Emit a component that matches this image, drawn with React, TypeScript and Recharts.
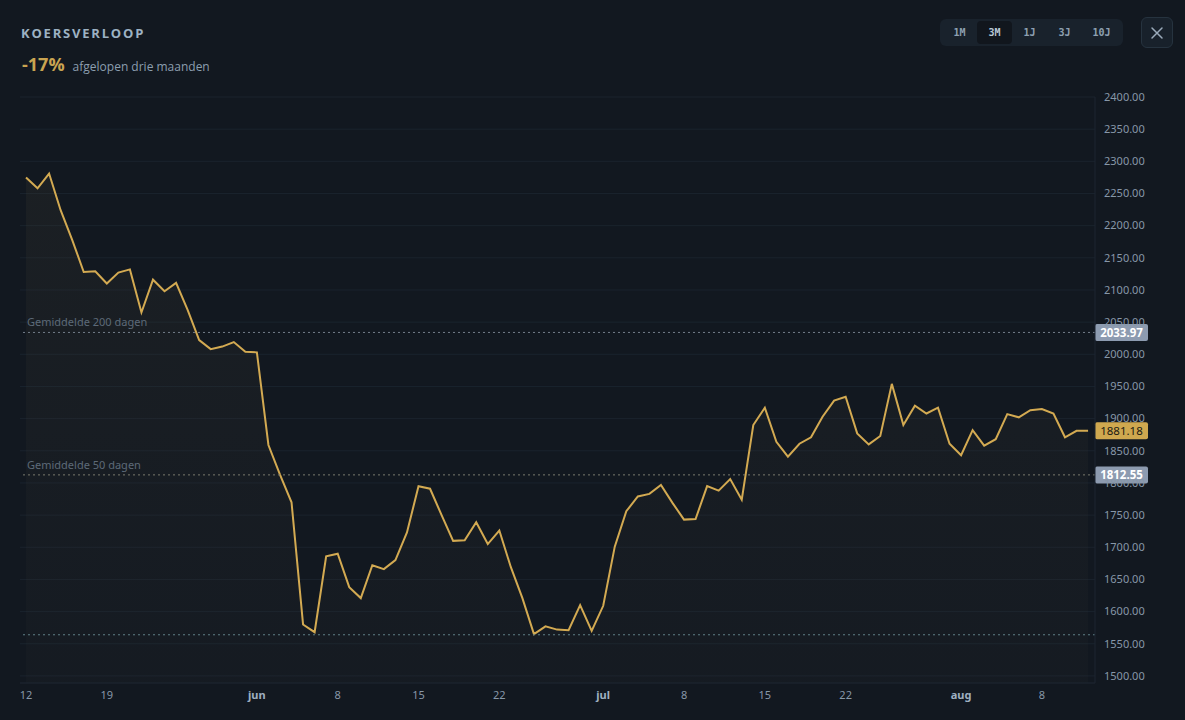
import React from "react";
import {
  ComposedChart,
  Area,
  XAxis,
  YAxis,
  CartesianGrid,
  ReferenceLine,
} from "recharts";

const prices = [
  2275, 2258, 2281, 2224, 2178, 2128, 2129, 2110, 2127, 2132,
  2065, 2116, 2098, 2111, 2069, 2022, 2008, 2012, 2019, 2004,
  2003, 1859, 1813, 1770, 1580, 1568, 1686, 1690, 1638, 1621,
  1672, 1666, 1680, 1723, 1795, 1791, 1750, 1710, 1711, 1739,
  1705, 1726, 1669, 1621, 1565, 1577, 1572, 1571, 1610, 1570,
  1609, 1701, 1756, 1779, 1783, 1797, 1769, 1743, 1744, 1795,
  1788, 1806, 1774, 1890, 1917, 1864, 1841, 1861, 1871, 1903,
  1928, 1934, 1877, 1860, 1873, 1954, 1890, 1920, 1908, 1917,
  1861, 1843, 1882, 1858, 1868, 1907, 1902, 1913, 1915, 1908,
  1871, 1881, 1881.18,
];

const xTickPositions = [0, 7, 20, 27, 34, 41, 50, 57, 64, 71, 81, 88];
const xTickLabels = ["12", "19", "jun", "8", "15", "22", "jul", "8", "15", "22", "aug", "8"];
const monthTicks = ["jun", "jul", "aug"];

const yTicks = [
  1500, 1550, 1600, 1650, 1700, 1750, 1800, 1850, 1900, 1950,
  2000, 2050, 2100, 2150, 2200, 2250, 2300, 2350, 2400,
];

const avg200 = 2033.97;
const avg50 = 1812.55;
const lastPrice = 1881.18;
const periodLow = 1564;

const rangeButtons = ["1M", "3M", "1J", "3J", "10J"];
const activeRange = "3M";

const data = prices.map((v, i) => ({ i, v }));

const BG = "#121820";
const GOLD = "#d3aa52";
const TICK = "#8797a8";
const GRID = "#1a232d";

const XTick = (props: any) => {
  const { x, y, payload } = props;
  const idx = xTickPositions.indexOf(payload.value);
  const label = idx >= 0 ? xTickLabels[idx] : "";
  const bold = monthTicks.includes(label);
  return (
    <text
      x={x}
      y={y}
      dy="0.71em"
      textAnchor="middle"
      fill={bold ? "#9fb0c0" : TICK}
      fontSize={11}
      fontWeight={bold ? 700 : 400}
      fontFamily="'Noto Sans', sans-serif"
    >
      {label}
    </text>
  );
};

const YTick = (props: any) => {
  const { y, payload } = props;
  return (
    <text
      x={1104}
      y={y}
      dy="0.35em"
      textAnchor="start"
      fill={TICK}
      fontSize={11}
      fontFamily="'Noto Sans', sans-serif"
    >
      {Number(payload.value).toFixed(2)}
    </text>
  );
};

const makeBoxLabel = (value: number, bg: string, color: string, weight: number, title?: string) => (props: any) => {
  const vb = props.viewBox || {};
  const right = vb.x + vb.width;
  const y = vb.y;
  return (
    <g>
      {title ? (
        <text
          x={27}
          y={y - 10}
          dy="0.35em"
          fill="#5d6a78"
          fontSize={11}
          fontFamily="'Noto Sans', sans-serif"
        >
          {title}
        </text>
      ) : null}
      <rect x={right} y={y - 8.5} width={53} height={17} rx={2} fill={bg} />
      <text
        x={right + 26.5}
        y={y}
        dy="0.36em"
        textAnchor="middle"
        fill={color}
        fontSize={11.5}
        fontWeight={weight}
        fontFamily="'Noto Sans', sans-serif"
      >
        {value.toFixed(2)}
      </text>
    </g>
  );
};

export default function App() {
  return (
    <div
      style={{
        position: "absolute",
        left: 0,
        top: 0,
        width: 1185,
        height: 720,
        background: BG,
        overflow: "hidden",
        fontFamily: "'Open Sans', sans-serif",
      }}
    >
      <div
        style={{
          position: "absolute",
          left: 21,
          top: 24,
          fontSize: 13,
          fontWeight: 700,
          letterSpacing: 1.8,
          color: "#9db2c3",
        }}
      >
        KOERSVERLOOP
      </div>
      <div
        style={{
          position: "absolute",
          left: 22,
          top: 52,
          display: "flex",
          alignItems: "baseline",
          gap: 8,
        }}
      >
        <span style={{ fontSize: 18, fontWeight: 700, color: "#c9a451" }}>-17%</span>
        <span style={{ fontSize: 12, color: "#8c9eaf" }}>afgelopen drie maanden</span>
      </div>

      <div
        style={{
          position: "absolute",
          left: 940,
          top: 19,
          width: 183,
          height: 27,
          background: "#19222c",
          borderRadius: 6,
          display: "flex",
          alignItems: "center",
          paddingLeft: 2,
          boxSizing: "border-box",
        }}
      >
        {rangeButtons.map((b) => (
          <div
            key={b}
            style={{
              width: b === "10J" ? 39 : 35,
              height: 23,
              borderRadius: 4,
              background: b === activeRange ? "#11161d" : "transparent",
              color: b === activeRange ? "#b9c8d6" : "#8ea0b1",
              fontFamily: "'DejaVu Sans Mono', monospace",
              fontWeight: 700,
              fontSize: 10,
              display: "flex",
              alignItems: "center",
              justifyContent: "center",
            }}
          >
            {b}
          </div>
        ))}
      </div>

      <div
        style={{
          position: "absolute",
          left: 1141,
          top: 17,
          width: 32,
          height: 31,
          background: "#18212b",
          border: "1px solid #26333f",
          borderRadius: 6,
          boxSizing: "border-box",
          display: "flex",
          alignItems: "center",
          justifyContent: "center",
        }}
      >
        <svg width={14} height={14} viewBox="0 0 14 14">
          <path d="M2 2 L12 12 M12 2 L2 12" stroke="#9aaaba" strokeWidth={1.5} strokeLinecap="round" />
        </svg>
      </div>

      <div style={{ position: "absolute", left: 0, top: 0 }}>
        <ComposedChart
          width={1185}
          height={720}
          data={data}
          margin={{ top: 97, right: 0, bottom: 0, left: 20 }}
        >
          <defs>
            <linearGradient id="areaFill" x1="0" y1="0" x2="0" y2="1">
              <stop offset="0%" stopColor="#4a4535" stopOpacity={0.28} />
              <stop offset="100%" stopColor="#3a3a38" stopOpacity={0.14} />
            </linearGradient>
          </defs>
          <CartesianGrid stroke={GRID} vertical={false} />
          <XAxis
            dataKey="i"
            type="number"
            domain={[-0.52, 92.6]}
            ticks={xTickPositions}
            tick={<XTick />}
            tickLine={false}
            axisLine={{ stroke: GRID }}
            height={37}
            interval={0}
            allowDataOverflow
          />
          <YAxis
            orientation="right"
            type="number"
            domain={[1489, 2400]}
            ticks={yTicks}
            tick={<YTick />}
            tickLine={false}
            axisLine={{ stroke: "#1c2530" }}
            width={90}
            interval={0}
            allowDataOverflow
          />
          <Area
            type="linear"
            dataKey="v"
            stroke={GOLD}
            strokeWidth={2}
            fill="url(#areaFill)"
            baseValue="dataMin"
            isAnimationActive={false}
            dot={false}
            activeDot={false}
          />
          <ReferenceLine
            y={periodLow}
            stroke="#5f7f86"
            strokeDasharray="2 3"
          />
          <ReferenceLine
            y={avg200}
            stroke="#737e8a"
            strokeDasharray="2 3"
            label={makeBoxLabel(avg200, "#8d9bb0", "#ffffff", 700, "Gemiddelde 200 dagen")}
          />
          <ReferenceLine
            y={avg50}
            stroke="#7b7a6e"
            strokeDasharray="2 3"
            label={makeBoxLabel(avg50, "#8d9bb0", "#ffffff", 700, "Gemiddelde 50 dagen")}
          />
          <ReferenceLine
            y={lastPrice}
            stroke="none"
            strokeOpacity={0}
            label={makeBoxLabel(lastPrice, "#cfa84f", "#1a1a14", 400)}
          />
        </ComposedChart>
      </div>
    </div>
  );
}
